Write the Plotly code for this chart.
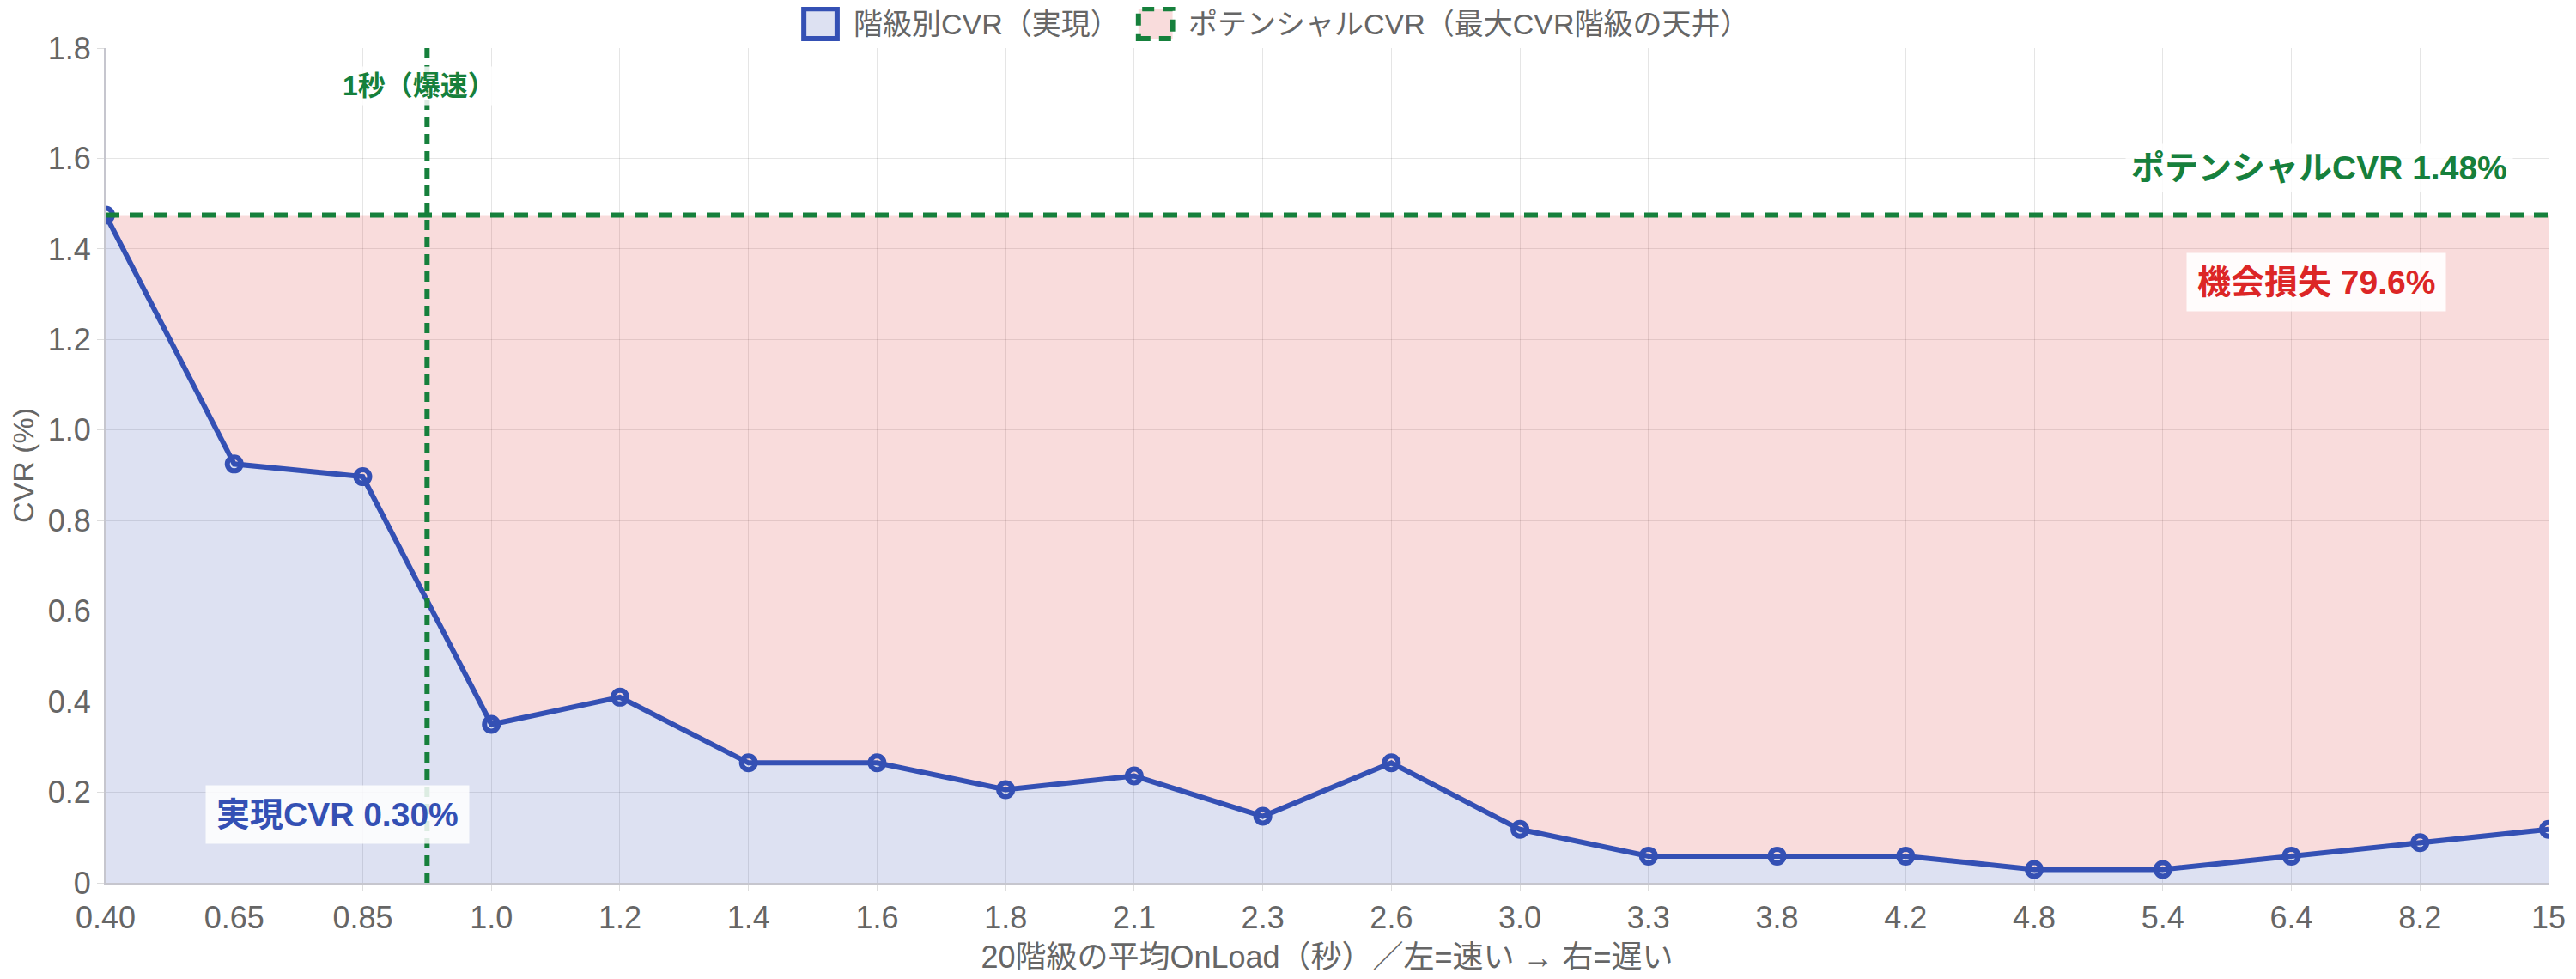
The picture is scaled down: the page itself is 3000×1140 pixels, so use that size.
import plotly.graph_objects as go

# 20 classes of average OnLoad time (sec), left = fast, right = slow
onload_labels = ["0.40", "0.65", "0.85", "1.0", "1.2", "1.4", "1.6", "1.8", "2.1", "2.3",
                 "2.6", "3.0", "3.3", "3.8", "4.2", "4.8", "5.4", "6.4", "8.2", "15"]
cvr = [1.475, 0.925, 0.897, 0.35, 0.41, 0.265, 0.265, 0.206, 0.236, 0.147,
       0.265, 0.118, 0.059, 0.059, 0.059, 0.0295, 0.0295, 0.059, 0.0885, 0.118]
potential = max(cvr)
realized = 0.30
loss_pct = 79.6
one_sec_pos = 2.5  # between 0.85 and 1.0
ytick_vals = [0, 0.2, 0.4, 0.6, 0.8, 1.0, 1.2, 1.4, 1.6]
ytick_text = ["0", "0.2", "0.4", "0.6", "0.8", "1.0", "1.2", "1.4", "1.6"]
legend_names = ["階級別CVR（実現）", "ポテンシャルCVR（最大CVR階級の天井）"]

FONT = "'Liberation Sans', Arial, 'Noto Sans CJK JP', sans-serif"
BLUE = "#3450b4"
GREEN = "#16803c"
RED = "#dc2626"
BLUE_FILL = "rgba(52,80,180,0.17)"
RED_FILL = "rgba(220,38,38,0.16)"
GRAY = "#666666"

# page body has an 8px margin, so the figure is shrunk by that much
OFF = 8
W, H = 3000 - OFF, 1140 - OFF
ML, MR, MT, MB = 115 - OFF, 23, 56 - OFF, 108
ymax = potential * 1.25


def px(x):
    return (x - OFF - ML) / (W - ML - MR)


def py(y):
    return (H - MB - (y - OFF)) / (H - MT - MB)


fig = go.Figure()
fig.add_trace(go.Scatter(
    x=onload_labels, y=cvr, name=legend_names[0],
    mode="lines+markers", fill="tozeroy", fillcolor=BLUE_FILL,
    line=dict(color=BLUE, width=6),
    marker=dict(symbol="circle-open", size=16, line=dict(width=6, color=BLUE)),
))
fig.add_trace(go.Scatter(
    x=onload_labels, y=[potential] * len(onload_labels), name=legend_names[1],
    mode="lines", fill="tonexty", fillcolor=RED_FILL,
    line=dict(color=GREEN, width=6, dash="16px,12px"),
))

# 1 sec line
fig.add_shape(type="line", x0=one_sec_pos, x1=one_sec_pos, xref="x", y0=0, y1=1, yref="paper",
              line=dict(color=GREEN, width=6, dash="12px,8px"))
fig.add_annotation(x=2.44, xref="x", y=py(100), yref="paper", yanchor="middle",
                   text="<b>1秒（爆速）</b>", showarrow=False,
                   font=dict(size=32, color=GREEN, family=FONT),
                   bgcolor="rgba(255,255,255,0.85)", borderpad=4)

fig.add_annotation(x=px(2936), xref="paper", y=potential + 0.105, yref="y",
                   xanchor="right", yanchor="middle",
                   text=f"<b>ポテンシャルCVR {potential:.2f}%</b>", showarrow=False,
                   font=dict(size=39, color=GREEN, family=FONT),
                   bgcolor="rgba(255,255,255,0.85)", borderpad=6)
fig.add_annotation(x=px(2705), xref="paper", y=potential * 0.9, yref="y",
                   xanchor="center", yanchor="middle",
                   text=f"<b>機会損失 {loss_pct:.1f}%</b>", showarrow=False,
                   font=dict(size=39, color=RED, family=FONT),
                   bgcolor="rgba(255,255,255,0.9)", borderpad=12)
fig.add_annotation(x=1.8, xref="x", y=realized / 2, yref="y",
                   xanchor="center", yanchor="middle",
                   text=f"<b>実現CVR {realized:.2f}%</b>", showarrow=False,
                   font=dict(size=39, color=BLUE, family=FONT),
                   bgcolor="rgba(255,255,255,0.85)", borderpad=12)

# legend drawn as boxes + labels at the top
legend_boxes = [(930, 975, BLUE, BLUE_FILL, "solid"), (1322, 1368, GREEN, RED_FILL, "14px,10px")]
for (x0, x1, lc, fc, dash), name in zip(legend_boxes, legend_names):
    fig.add_shape(type="rect", xref="paper", yref="paper",
                  x0=px(x0 + 3), x1=px(x1 - 3), y0=py(45), y1=py(10),
                  line=dict(color=lc, width=6, dash=dash), fillcolor=fc)
    fig.add_annotation(x=px(x1 + 14), xref="paper", y=py(28), yref="paper",
                       xanchor="left", yanchor="middle", text=name, showarrow=False,
                       font=dict(size=34, color=GRAY, family=FONT))

fig.update_layout(
    width=W, height=H,
    margin=dict(l=ML, r=MR, t=MT, b=MB),
    paper_bgcolor="white", plot_bgcolor="white",
    font=dict(family=FONT, size=36, color=GRAY),
    showlegend=False,
)
fig.update_xaxes(
    title=dict(text="20階級の平均OnLoad（秒）／左=速い → 右=遅い", font=dict(size=36), standoff=14),
    type="category", showgrid=True, gridcolor="rgba(0,0,0,0.1)", gridwidth=1,
    showline=True, linecolor="#c6c6ce", linewidth=2,
    ticks="outside", ticklen=8, tickcolor="#dddddd", tickfont=dict(size=36),
    range=[0, len(onload_labels) - 1],
)
fig.update_yaxes(
    title=dict(text="CVR (%)", font=dict(size=34), standoff=12),
    range=[0, ymax], tickvals=ytick_vals + [ymax], ticktext=ytick_text + ["1.8"],
    showgrid=True, gridcolor="rgba(0,0,0,0.1)", gridwidth=1, zeroline=False,
    showline=True, linecolor="#c6c6ce", linewidth=2,
    ticks="outside", ticklen=8, tickcolor="#dddddd", tickfont=dict(size=36),
)

fig.write_html("out.html")
